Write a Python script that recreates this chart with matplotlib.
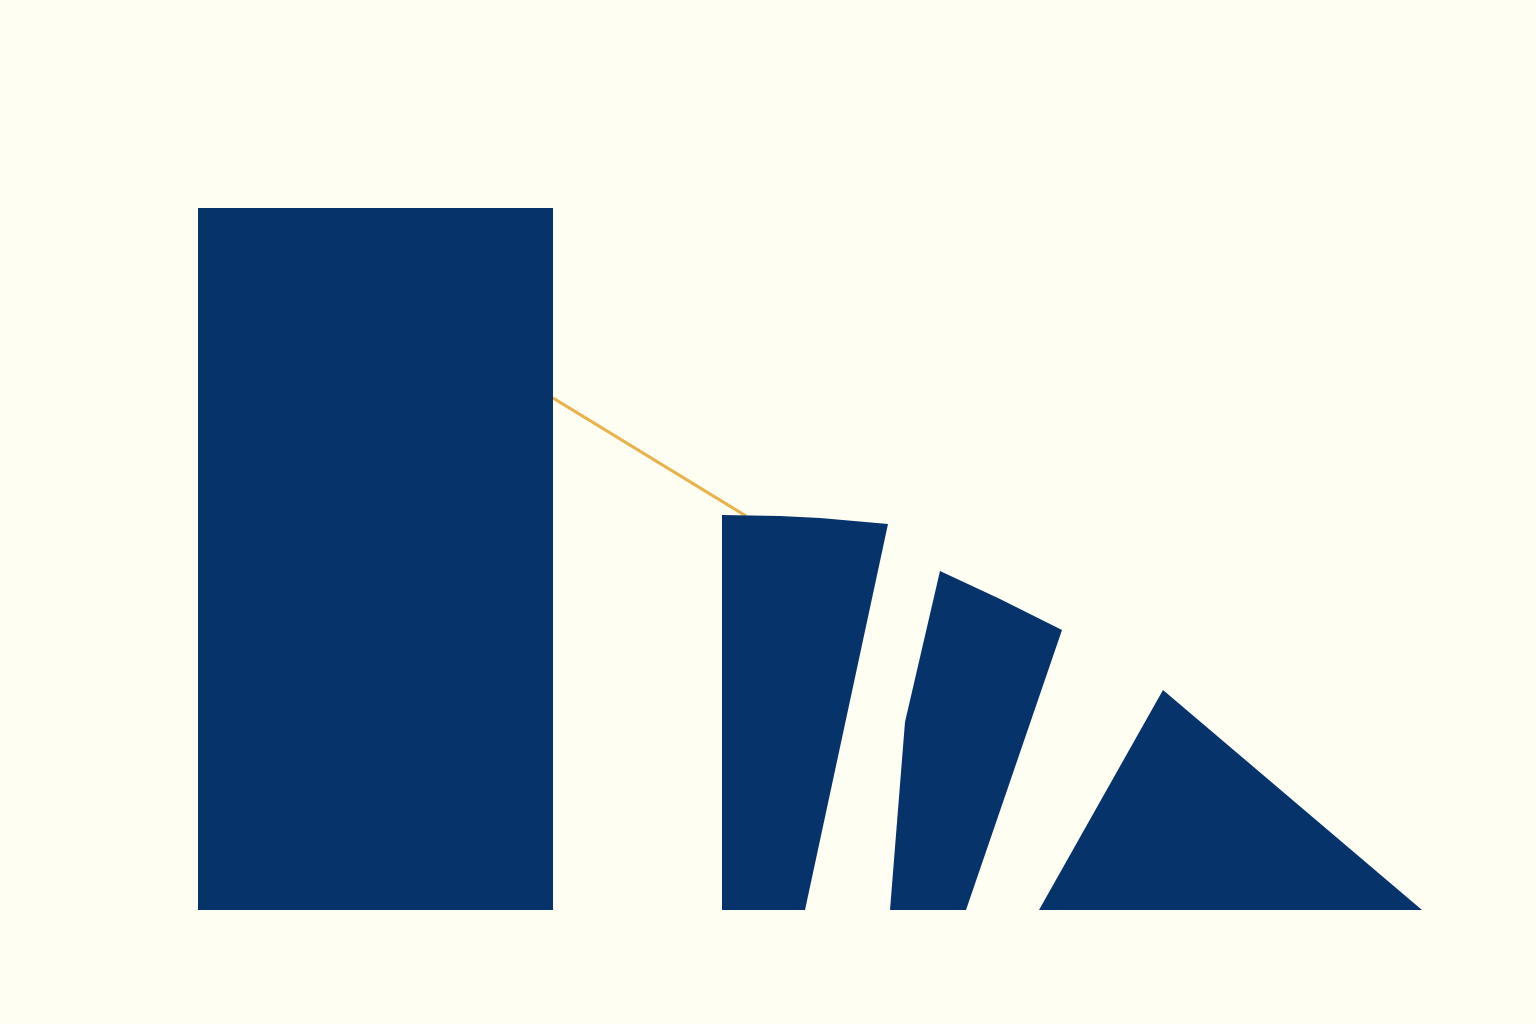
import matplotlib
matplotlib.use("Agg")
import matplotlib.pyplot as plt
from matplotlib.patches import Polygon

# Shape outlines (x in chart units, y = height above baseline)
bar1_x = [198, 553, 553, 198]
bar1_y = [0, 0, 702, 702]

shape2_x = [722, 805, 888, 820, 780, 722]
shape2_y = [0, 0, 386, 392, 394, 395]

shape3_x = [890, 966, 1062, 1000, 940, 905]
shape3_y = [0, 0, 280, 311, 339, 188]

shape4_x = [1039, 1422, 1163]
shape4_y = [0, 0, 220]

line_x = [553, 746]
line_y = [512, 394]

navy = "#07336B"
gold = "#E9B24A"
bg = "#FFFEF3"

fig = plt.figure(figsize=(15.36, 10.24), dpi=100, facecolor=bg)
ax = fig.add_axes([0, 0, 1, 1])
ax.set_facecolor(bg)
ax.set_xlim(0, 1536)
ax.set_ylim(-114, 910)
ax.axis("off")

ax.plot(line_x, line_y, color=gold, lw=2.2, zorder=1, solid_capstyle="butt")
for xs, ys in [(bar1_x, bar1_y), (shape2_x, shape2_y), (shape3_x, shape3_y), (shape4_x, shape4_y)]:
    ax.add_patch(Polygon(list(zip(xs, ys)), closed=True, facecolor=navy, edgecolor="none", zorder=2))

fig.savefig("out.png", dpi=100, facecolor=bg)
